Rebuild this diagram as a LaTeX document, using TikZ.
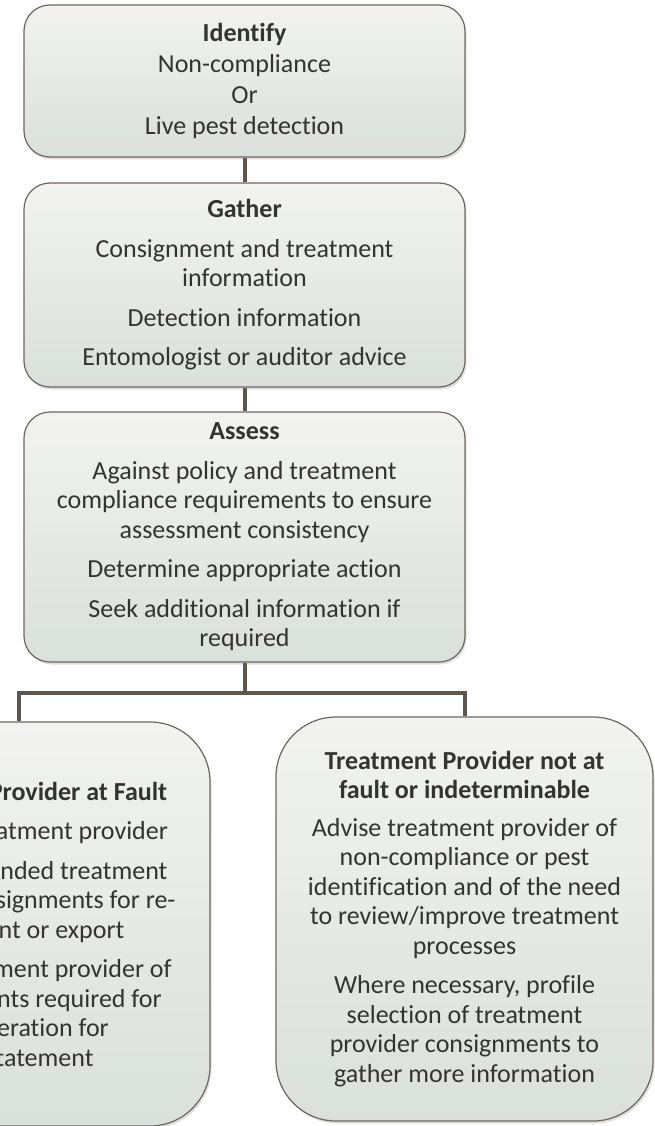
\documentclass[tikz,border=0pt]{standalone}
\usepackage{fontspec}
\setmainfont{Carlito}[Ligatures=NoCommon]
\usetikzlibrary{shadows}

\definecolor{boxtop}{HTML}{F2F3F1}
\definecolor{boxbottom}{HTML}{DAE0DC}
\definecolor{edgegrey}{HTML}{6F665D}
\definecolor{linkgrey}{HTML}{5F564E}
\definecolor{textgrey}{HTML}{333333}

\tikzset{
  stage/.style={draw=edgegrey, line width=1.2pt, rounded corners=26pt,
    top color=boxtop, bottom color=boxbottom, text=textgrey, align=center,
    font=\fontsize{26}{29.5}\selectfont, minimum width=441pt,
    drop shadow={shadow xshift=1.5pt, shadow yshift=-2.5pt, opacity=0.25}},
  outcome/.style={stage, rounded corners=60pt},
  link/.style={draw=linkgrey, line width=4pt}
}

\begin{document}
\begin{tikzpicture}[x=1pt, y=-1pt]
    % Frame (the fault box runs off the left edge)
    \useasboundingbox (0,0) rectangle (655,1126);
    \clip (0,0) rectangle (655,1126);

    % Process steps
    \node[stage, minimum height=152pt] (identify) at (244.5,81) {\textbf{Identify}\\[1.5pt] Non-compliance\\[1.5pt] Or\\[1.5pt] Live pest detection};
    \node[stage, minimum height=204pt] (gather) at (244.5,285) {\textbf{Gather}\\[10pt] Consignment and treatment\\ information\\[10pt] Detection information\\[10pt] Entomologist or auditor advice};
    \node[stage, minimum height=250pt] (assess) at (244.5,537) {\textbf{Assess}\\[10pt] Against policy and treatment\\ compliance requirements to ensure\\ assessment consistency\\[10pt] Determine appropriate action\\[10pt] Seek additional information if\\ required};

    % Outcomes
    \node[outcome, minimum width=382pt, minimum height=404pt] (fault) at (19,924) {\textbf{Treatment Provider at Fault}\\[10pt] Suspend treatment provider\\[10pt] Direct suspended treatment\\ provider consignments for re-\\ treatment or export\\[10pt] Advise treatment provider of\\ improvements required for\\ consideration for\\ reinstatement};
    \node[outcome, minimum width=377pt, minimum height=404pt] (notfault) at (464.5,919) {\textbf{Treatment Provider not at}\\ \textbf{fault or indeterminable}\\[8pt] Advise treatment provider of\\ non-compliance or pest\\ identification and of the need\\ to review/improve treatment\\ processes\\[10pt] Where necessary, profile\\ selection of treatment\\ provider consignments to\\ gather more information};

    % Connectors
    \draw[link] (identify.south) -- (gather.north);
    \draw[link] (gather.south) -- (assess.north);
    \draw[link] (assess.south) -- ++(0,30) -| (fault.north);
    \draw[link] (assess.south) -- ++(0,30) -| (notfault.north);
\end{tikzpicture}
\end{document}
